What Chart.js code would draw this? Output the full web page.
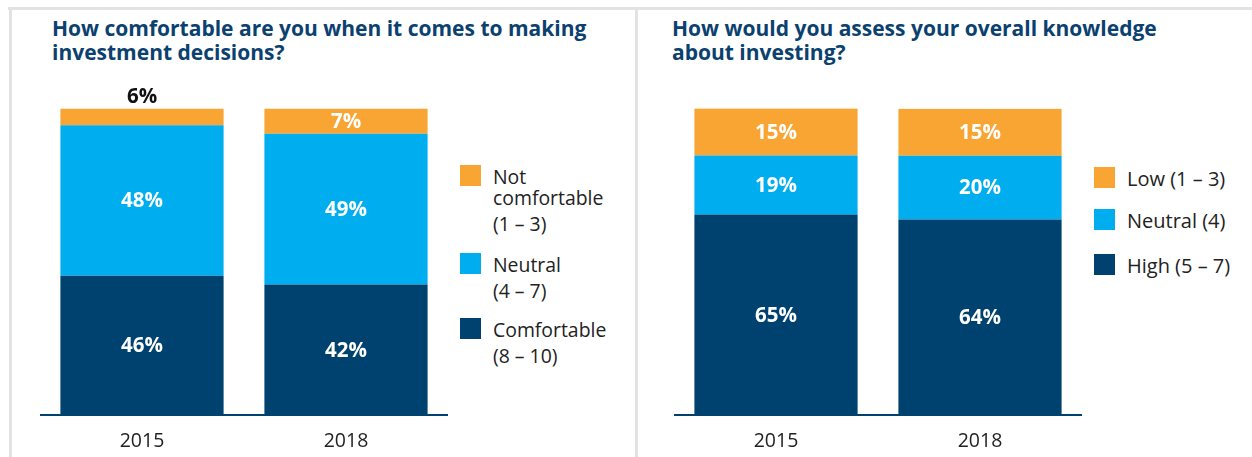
<!DOCTYPE html>
<html>
<head>
<meta charset="utf-8">
<script src="https://cdn.jsdelivr.net/npm/chart.js@4.4.1/dist/chart.umd.min.js"></script>
<style>
  html, body { margin: 0; padding: 0; background: #fff; }
  body { width: 1252px; height: 457px; position: relative; overflow: hidden; font-family: 'Open Sans', sans-serif; }
  .rule { position: absolute; background: #e3e3e3; }
  .title { position: absolute; top: 15.5px; font-weight: 700; font-size: 21px; line-height: 24.5px; color: #0b416f; white-space: nowrap; }
  .chart { position: absolute; top: 0; }
  .legend { position: absolute; top: 0; line-height: 21px; color: #222; }
  .legend-item { position: absolute; left: 0; white-space: nowrap; }
  .legend-box { position: absolute; left: 0; top: 0; width: 21px; height: 21px; }
  .legend-text { position: absolute; left: 33px; top: 0.5px; }
  .legend-text .range { display: block; margin-top: 5px; }
</style>
</head>
<body>
<div class="rule" style="left:8px; top:7px; width:1244px; height:3px;"></div>
<div class="rule" style="left:9px; top:7px; width:3px; height:450px;"></div>
<div class="rule" style="left:635px; top:9px; width:3px; height:448px;"></div>

<div class="title" id="title-left" style="left:52px;"></div>
<div class="title" id="title-right" style="left:672px;"></div>

<canvas class="chart" id="chart-left" width="408" height="470" style="left:39.5px;"></canvas>
<canvas class="chart" id="chart-right" width="408" height="470" style="left:674px;"></canvas>

<div class="legend" id="legend-left" style="left:460px; font-size:19.4px;"></div>
<div class="legend" id="legend-right" style="left:1094px; font-size:20px;"></div>

<script>
'use strict';

const COLORS = { low: '#f9a533', mid: '#00aeef', high: '#00426f' };

const years = ['2015', '2018'];

// left panel: comfort making investment decisions
const comfortTitle = ['How comfortable are you when it comes to making', 'investment decisions?'];
const comfortNames = ['Not\ncomfortable\n(1 – 3)', 'Neutral\n(4 – 7)', 'Comfortable\n(8 – 10)'];
const comfortNot     = [5.5, 8.2];
const comfortNeutral = [49.1, 49.2];
const comfortYes     = [45.4, 42.6];
const comfortNotText     = ['6%', '7%'];
const comfortNeutralText = ['48%', '49%'];
const comfortYesText     = ['46%', '42%'];

// right panel: self-assessed knowledge
const knowTitle = ['How would you assess your overall knowledge', 'about investing?'];
const knowNames = ['Low (1 – 3)', 'Neutral (4)', 'High (5 – 7)'];
const knowLow     = [15.4, 15.3];
const knowNeutral = [19.3, 20.8];
const knowHigh    = [65.4, 63.8];
const knowLowText     = ['15%', '15%'];
const knowNeutralText = ['19%', '20%'];
const knowHighText    = ['65%', '64%'];

const barLabels = {
  id: 'barLabels',
  afterDatasetsDraw(chart) {
    const ctx = chart.ctx;
    ctx.save();
    ctx.font = '700 20.5px "Open Sans"';
    ctx.textAlign = 'center';
    ctx.textBaseline = 'middle';
    chart.data.datasets.forEach((ds, i) => {
      chart.getDatasetMeta(i).data.forEach((bar, j) => {
        const txt = ds.valueText[j];
        const h = Math.abs(bar.base - bar.y);
        if (h < 22) {
          // too thin, put it on top
          ctx.fillStyle = '#111';
          ctx.fillText(txt, bar.x, bar.y - 11);
        } else {
          ctx.fillStyle = '#fff';
          ctx.fillText(txt, bar.x, (bar.y + bar.base) / 2 + 1);
        }
      });
    });
    ctx.restore();
  }
};

function makeDataset(label, data, text, color) {
  return {
    label,
    data,
    valueText: text,
    backgroundColor: color,
    borderWidth: 0,
    barPercentage: 0.8,
    categoryPercentage: 1,
  };
}

function renderChart(id, datasets) {
  return new Chart(document.getElementById(id), {
    type: 'bar',
    data: { labels: years, datasets },
    options: {
      responsive: false,
      animation: false,
      layout: { padding: { top: 108.5, bottom: 1.6, left: 0, right: 0 } },
      plugins: { legend: { display: false }, tooltip: { enabled: false } },
      scales: {
        x: {
          stacked: true,
          grid: { display: false, drawTicks: false },
          border: { display: true, color: COLORS.high, width: 2 },
          ticks: { color: '#222', padding: 15, font: { size: 19.5, family: 'Open Sans' } },
        },
        y: { stacked: true, display: false, min: 0, max: 100 },
      },
    },
    plugins: [barLabels],
  });
}

function renderTitle(id, lines) {
  document.getElementById(id).innerHTML = lines.join('<br>');
}

// legend tops (px) for each entry, top to bottom
function renderLegend(id, names, colors, tops) {
  const el = document.getElementById(id);
  el.innerHTML = names.map((name, i) => {
    const lines = name.split('\n');
    const html = lines.length > 1
      ? lines.slice(0, -1).join('<br>') + `<span class="range">${lines[lines.length - 1]}</span>`
      : name;
    return `
    <div class="legend-item" style="top:${tops[i]}px">
      <span class="legend-box" style="background:${colors[i]}"></span>
      <span class="legend-text">${html}</span>
    </div>`;
  }).join('');
}

renderTitle('title-left', comfortTitle);
renderTitle('title-right', knowTitle);

renderChart('chart-left', [
  makeDataset(comfortNames[2], comfortYes, comfortYesText, COLORS.high),
  makeDataset(comfortNames[1], comfortNeutral, comfortNeutralText, COLORS.mid),
  makeDataset(comfortNames[0], comfortNot, comfortNotText, COLORS.low),
]);

renderChart('chart-right', [
  makeDataset(knowNames[2], knowHigh, knowHighText, COLORS.high),
  makeDataset(knowNames[1], knowNeutral, knowNeutralText, COLORS.mid),
  makeDataset(knowNames[0], knowLow, knowLowText, COLORS.low),
]);

const legendColors = [COLORS.low, COLORS.mid, COLORS.high];
renderLegend('legend-left', comfortNames, legendColors, [165, 253, 318]);
renderLegend('legend-right', knowNames, legendColors, [167, 209, 254]);
</script>
</body>
</html>
